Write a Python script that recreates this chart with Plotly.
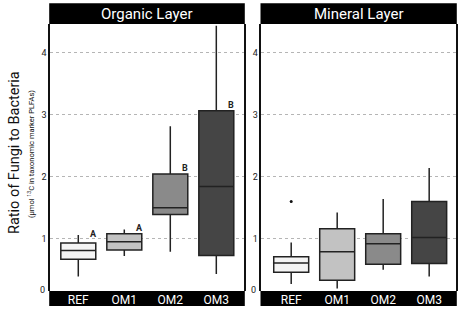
import plotly.graph_objects as go

categories = ["REF", "OM1", "OM2", "OM3"]
panels = ["Organic Layer", "Mineral Layer"]

# Organic layer box statistics
org_low = [0.39, 0.72, 0.79, 0.43]
org_q1 = [0.67, 0.82, 1.39, 0.73]
org_med = [0.81, 0.95, 1.50, 1.84]
org_q3 = [0.93, 1.08, 2.04, 3.06]
org_high = [1.06, 1.15, 2.81, 4.43]
org_letters = ["A", "A", "B", "B"]
org_letter_y = [1.08, 1.17, 2.14, 3.15]

# Mineral layer box statistics
min_low = [0.27, 0.20, 0.50, 0.39]
min_q1 = [0.46, 0.33, 0.59, 0.60]
min_med = [0.61, 0.79, 0.92, 1.02]
min_q3 = [0.71, 1.16, 1.08, 1.60]
min_high = [0.94, 1.42, 1.64, 2.14]
min_outlier_x = ["REF"]
min_outlier_y = [1.60]

fills = ["#f4f4f4", "#c2c2c2", "#8a8a8a", "#454545"]
yticks = [1, 2, 3, 4]

FONT = "Roboto, Liberation Sans, sans-serif"
W, H = 459, 312

def px(x):
    return x / W

def py(y):
    return 1 - y / H

fig = go.Figure()

sets = [
    (org_low, org_q1, org_med, org_q3, org_high, "x", "y"),
    (min_low, min_q1, min_med, min_q3, min_high, "x2", "y2"),
]
for lo, q1, md, q3, hi, xa, ya in sets:
    for i, c in enumerate(categories):
        fig.add_trace(go.Box(
            x=[i], q1=[q1[i]], median=[md[i]], q3=[q3[i]],
            lowerfence=[lo[i]], upperfence=[hi[i]],
            width=0.76, whiskerwidth=0,
            fillcolor=fills[i], line=dict(color="#222222", width=1.5),
            boxpoints=False, showlegend=False, hoverinfo="skip",
            xaxis=xa, yaxis=ya,
        ))

fig.add_trace(go.Scatter(
    x=[categories.index(c) for c in min_outlier_x], y=min_outlier_y,
    mode="markers", marker=dict(color="#111111", size=3),
    showlegend=False, xaxis="x2", yaxis="y2", hoverinfo="skip",
))

panel_px = [(50, 244), (261.3, 456)]
xranges = [[-0.615, 3.602], [-0.65, 3.583]]
y_bottom, y_top = 291, 24
yrange = [(300.8 - y_bottom) / 62.1, (300.8 - y_top) / 62.1]

axis_common_x = dict(
    tickvals=[0, 1, 2, 3], ticktext=categories, showgrid=False, zeroline=False,
    ticks="", showline=False, automargin=False, ticklabelstandoff=0,
    tickfont=dict(family=FONT, size=12, color="white"),
)
axis_common_y = dict(
    range=yrange, tickvals=yticks, ticktext=[str(v) for v in yticks],
    showgrid=True, gridcolor="#b5b5b5", griddash="dot", gridwidth=1,
    zeroline=False, ticks="", showline=True, mirror=True, automargin=False,
    linecolor="#111111", linewidth=1.5,
    tickfont=dict(family=FONT, size=9, color="#222222"),
)

fig.update_layout(
    width=W, height=H, margin=dict(l=0, r=0, t=0, b=0, autoexpand=False),
    paper_bgcolor="white", plot_bgcolor="white",
    xaxis=dict(domain=[px(panel_px[0][0]), px(panel_px[0][1])], range=xranges[0], anchor="y", **axis_common_x),
    xaxis2=dict(domain=[px(panel_px[1][0]), px(panel_px[1][1])], range=xranges[1], anchor="y2", **axis_common_x),
    yaxis=dict(domain=[py(y_bottom), py(y_top)], anchor="x", **axis_common_y),
    yaxis2=dict(domain=[py(y_bottom), py(y_top)], anchor="x2", **axis_common_y),
)

shapes = []
annotations = []
for k, (x0, x1) in enumerate(panel_px):
    # title bar
    shapes.append(dict(type="rect", xref="paper", yref="paper",
                       x0=px(x0 - 0.8), x1=px(x1 + 0.8), y0=py(24), y1=py(3.3),
                       fillcolor="black", line=dict(width=0), layer="below"))
    # category bar
    shapes.append(dict(type="rect", xref="paper", yref="paper",
                       x0=px(x0 - 0.8), x1=px(x1 + 0.8), y0=py(306), y1=py(291),
                       fillcolor="black", line=dict(width=0), layer="below"))
    annotations.append(dict(text=panels[k], xref="paper", yref="paper",
                            x=px((x0 + x1) / 2), y=py(13.8), showarrow=False,
                            xanchor="center", yanchor="middle",
                            font=dict(family=FONT, size=15, color="white")))
    annotations.append(dict(text="0", xref="paper", yref="paper",
                            x=px(x0 - 3), y=py(289.5), showarrow=False,
                            xanchor="right", yanchor="middle",
                            font=dict(family=FONT, size=9, color="#222222")))

for i, (lt, ly) in enumerate(zip(org_letters, org_letter_y)):
    annotations.append(dict(text="<b>" + lt + "</b>", x=i + 0.33, y=ly, xref="x", yref="y",
                            showarrow=False, xanchor="center", yanchor="middle",
                            font=dict(family=FONT, size=9, color="#222222")))

annotations.append(dict(text="Ratio of Fungi to Bacteria", xref="paper", yref="paper",
                        x=px(14), y=py(153), textangle=-90, showarrow=False,
                        xanchor="center", yanchor="middle",
                        font=dict(family=FONT, size=14.5, color="#111111")))
annotations.append(dict(text="(µmol <sup>13</sup>C in taxonomic marker PLFAs)", xref="paper", yref="paper",
                        x=px(31), y=py(154), textangle=-90, showarrow=False,
                        xanchor="center", yanchor="middle",
                        font=dict(family=FONT, size=7.5, color="#111111")))

fig.update_layout(shapes=shapes, annotations=annotations)
fig.write_html("out.html", config={"displayModeBar": False},
               post_script="document.body.style.margin='0';")
